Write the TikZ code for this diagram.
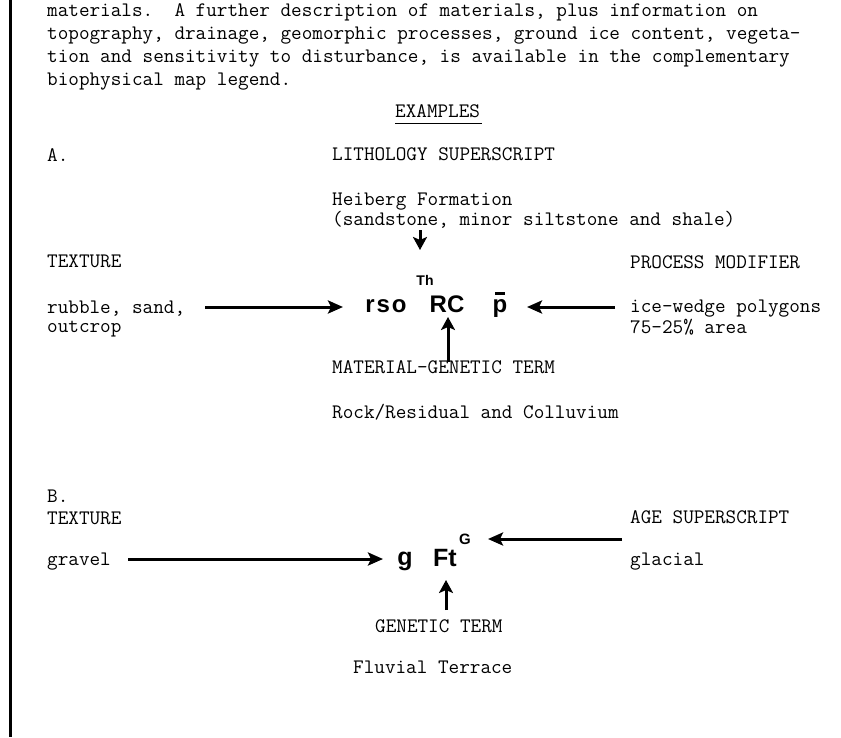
\documentclass[tikz,border=0pt]{standalone}
\usepackage{fontspec}
\usetikzlibrary{arrows.meta}
\newfontfamily\symfont{Liberation Sans}[LetterSpace=8]
\newfontfamily\symfontplain{Liberation Sans}
\frenchspacing
\begin{document}
\begin{tikzpicture}[x=1pt,y=-1pt,
  txt/.style={anchor=base west,inner sep=0pt,font=\ttfamily\fontsize{20.6}{22}\selectfont},
  sym/.style={anchor=base,inner sep=0pt},
  arr/.style={line width=3pt,-{Stealth[length=15pt,width=13pt,inset=3pt]}},
  varr/.style={line width=3pt,-{Stealth[length=13pt,width=14pt,inset=3pt]}}]
\useasboundingbox (0,0) rectangle (841,737);
\fill[white] (0,0) rectangle (841,737);
% left margin rule
\draw[line width=3pt] (10,0) -- (10,737);
% paragraph
\node[txt] (p1) at (47,16) {materials.\ \ A further description of materials, plus information on};
\node[txt] (p2) at (47,39) {topography, drainage, geomorphic processes, ground ice content, vegeta-};
\node[txt] (p3) at (47,62) {tion and sensitivity to disturbance, is available in the complementary};
\node[txt] (p4) at (47,85) {biophysical map legend.};
\node[txt] (ex) at (395,117) {EXAMPLES};
\draw[line width=1pt] (ex.base west) ++(0,6) -- ++(87,0);
% ---- A
\node[txt] (A) at (47,161) {A.};
\node[txt] (lith) at (332,160) {LITHOLOGY SUPERSCRIPT};
\node[txt] (heib) at (332,205) {Heiberg Formation};
\node[txt] (sand) at (332,225) {(sandstone, minor siltstone and shale)};
\node[txt] (texA) at (47,267) {TEXTURE};
\node[txt] (proc) at (630,268) {PROCESS MODIFIER};
\node[txt] (rub) at (47,313) {rubble, sand,};
\node[txt] (outc) at (47,332) {outcrop};
\node[txt] (ice) at (630,312) {ice-wedge polygons};
\node[txt] (pct) at (630,333) {75-25\% area};
\node[txt] (matg) at (332,373) {MATERIAL-GENETIC TERM};
\node[txt] (rock) at (332,418) {Rock/Residual and Colluvium};
% symbols A
\node[sym,font=\symfont\bfseries\fontsize{24}{24}\selectfont] (rso) at (386,312) {rso};
\node[sym,font=\symfontplain\bfseries\fontsize{24}{24}\selectfont] (RC) at (447,312) {RC};
\node[sym,font=\symfontplain\bfseries\fontsize{14}{14}\selectfont] (Th) at (425,285) {Th};
\node[sym,font=\symfontplain\bfseries\fontsize{24}{24}\selectfont] (pp) at (500,312) {p};
\draw[line width=3pt] (495,293) -- (505,293);
% arrows A
\coordinate (aR0) at (205,307);
\coordinate (aR1) at (343,307);
\draw[arr] (aR0) -- (aR1);
\coordinate (aL0) at (615,307);
\coordinate (aL1) at (527,307);
\draw[arr] (aL0) -- (aL1);
\coordinate (aD0) at (420,230);
\coordinate (aD1) at (420,250);
\draw[varr] (aD0) -- (aD1);
\coordinate (aU0) at (448,362);
\coordinate (aU1) at (448,317);
\draw[varr] (aU0) -- (aU1);
% ---- B
\node[txt] (B) at (47,502) {B.};
\node[txt] (texB) at (47,524) {TEXTURE};
\node[txt] (grav) at (47,565) {gravel};
\node[txt] (age) at (630,523) {AGE SUPERSCRIPT};
\node[txt] (glac) at (630,565) {glacial};
\node[txt] (gen) at (375,632) {GENETIC TERM};
\node[txt] (fluv) at (353,673) {Fluvial Terrace};
\node[sym,font=\symfontplain\bfseries\fontsize{25}{25}\selectfont] (g) at (405,565) {g};
\node[sym,font=\symfontplain\bfseries\fontsize{25}{25}\selectfont] (Ft) at (445,566) {Ft};
\node[sym,font=\symfontplain\bfseries\fontsize{15}{15}\selectfont] (G) at (465,544) {G};
\coordinate (bR0) at (128,559);
\coordinate (bR1) at (383,559);
\draw[arr] (bR0) -- (bR1);
\coordinate (bL0) at (622,539);
\coordinate (bL1) at (488,539);
\draw[arr] (bL0) -- (bL1);
\coordinate (bU0) at (446,610);
\coordinate (bU1) at (446,580);
\draw[varr] (bU0) -- (bU1);
\end{tikzpicture}
\end{document}
